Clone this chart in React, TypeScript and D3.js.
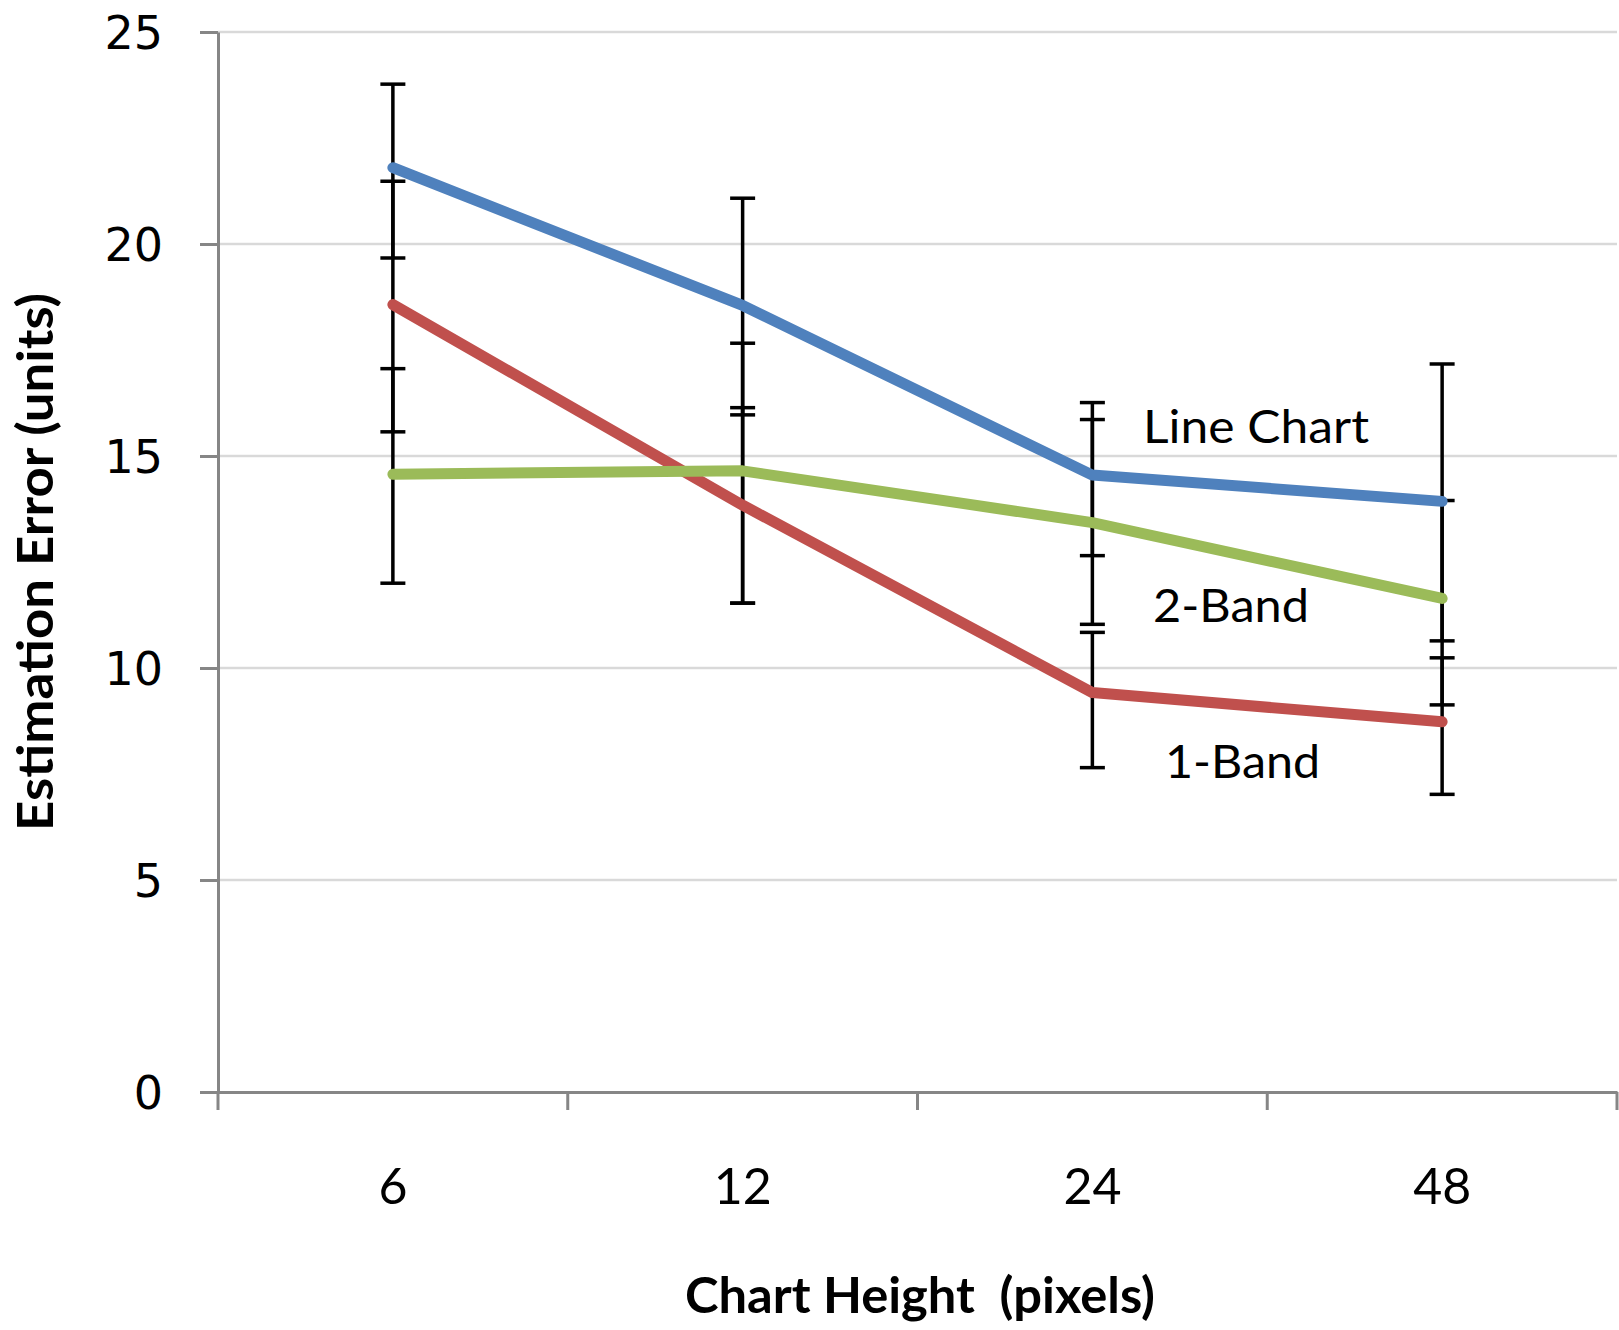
import React, { useEffect, useRef } from "react";
import * as d3 from "d3";

// ---- Data ----
const categories = ["6", "12", "24", "48"];
const yTicks = [0, 5, 10, 15, 20, 25];

const lineChartValues = [21.8, 18.55, 14.55, 13.93];
const oneBandValues = [18.57, 13.84, 9.42, 8.73];
const twoBandValues = [14.57, 14.65, 13.43, 11.64];

const lineChartLow = [19.67, 15.97, 12.65, 10.64];
const lineChartHigh = [23.77, 21.08, 16.26, 17.17];
const oneBandLow = [15.57, 11.53, 7.65, 7.02];
const oneBandHigh = [21.48, 16.14, 10.84, 10.24];
const twoBandLow = [12.0, 11.53, 11.03, 9.13];
const twoBandHigh = [17.06, 17.66, 15.86, 13.95];

const seriesNames = ["Line Chart", "1-Band", "2-Band"];
const seriesColors = ["#4F81BD", "#C0504D", "#9BBB59"];

const xTitle = "Chart Height  (pixels)";
const yTitle = "Estimation Error (units)";

const W = 1619;
const H = 1330;
const left = 218;
const right = 1617;
const top = 32;
const bottom = 1092;

export default function App() {
  const ref = useRef<SVGSVGElement | null>(null);

  useEffect(() => {
    const svg = d3.select(ref.current);
    svg.selectAll("*").remove();

    const x = d3.scaleBand<string>().domain(categories).range([left, right]).padding(0);
    const y = d3.scaleLinear().domain([0, 25]).range([bottom, top]);
    const cx = (c: string) => (x(c) as number) + x.bandwidth() / 2;

    // gridlines
    svg
      .append("g")
      .selectAll("line")
      .data(yTicks.filter((t) => t > 0))
      .join("line")
      .attr("x1", left)
      .attr("x2", right)
      .attr("y1", (d) => y(d))
      .attr("y2", (d) => y(d))
      .attr("stroke", "#d9d9d9")
      .attr("stroke-width", 2.5);

    // y axis
    const yAxis = d3
      .axisLeft(y)
      .tickValues(yTicks)
      .tickSize(18)
      .tickSizeOuter(0)
      .tickPadding(37)
      .tickFormat((d) => String(d));
    const gy = svg.append("g").attr("transform", `translate(${left},0)`).call(yAxis);
    gy.select(".domain").attr("stroke", "#868686").attr("stroke-width", 3);
    gy.selectAll(".tick line").attr("stroke", "#868686").attr("stroke-width", 3);
    gy.selectAll(".tick text")
      .attr("font-family", "'DejaVu Sans', Verdana, sans-serif")
      .attr("font-size", 46)
      .attr("fill", "#000")
      .attr("dy", "0.36em");

    // x axis labels
    const xAxis = d3.axisBottom(x).tickSize(0).tickSizeOuter(0).tickPadding(0);
    const gx = svg.append("g").attr("transform", `translate(0,${bottom})`).call(xAxis);
    gx.select(".domain").attr("stroke", "#868686").attr("stroke-width", 3);
    gx.selectAll(".tick text")
      .attr("font-family", "Lato, 'Open Sans', sans-serif")
      .attr("font-size", 50)
      .attr("fill", "#000")
      .attr("y", 112)
      .attr("dy", 0);

    // x axis boundary ticks
    const bounds = categories.map((c) => x(c) as number).concat([x.range()[1]]);
    svg
      .append("g")
      .selectAll("line")
      .data(bounds)
      .join("line")
      .attr("x1", (d) => d)
      .attr("x2", (d) => d)
      .attr("y1", bottom)
      .attr("y2", bottom + 18)
      .attr("stroke", "#868686")
      .attr("stroke-width", 3);

    // error bars
    const lows = [lineChartLow, oneBandLow, twoBandLow];
    const highs = [lineChartHigh, oneBandHigh, twoBandHigh];
    const eg = svg.append("g").attr("stroke", "#000").attr("stroke-width", 3.5);
    lows.forEach((lo, si) => {
      const hi = highs[si];
      categories.forEach((c, i) => {
        const px = cx(c);
        eg.append("line").attr("x1", px).attr("x2", px).attr("y1", y(lo[i])).attr("y2", y(hi[i]));
        [lo[i], hi[i]].forEach((v) => {
          eg.append("line")
            .attr("x1", px - 12.5)
            .attr("x2", px + 12.5)
            .attr("y1", y(v))
            .attr("y2", y(v));
        });
      });
    });

    // lines
    const series = [lineChartValues, oneBandValues, twoBandValues];
    const line = d3
      .line<number>()
      .x((_, i) => cx(categories[i]))
      .y((d) => y(d));
    series.forEach((vals, si) => {
      svg
        .append("path")
        .attr("d", line(vals) as string)
        .attr("fill", "none")
        .attr("stroke", seriesColors[si])
        .attr("stroke-width", 11)
        .attr("stroke-linecap", "round")
        .attr("stroke-linejoin", "round");
    });

    // series labels
    const labels = [
      { name: seriesNames[0], x: 1143, y: 443, len: 226 },
      { name: seriesNames[2], x: 1153, y: 622, len: 156 },
      { name: seriesNames[1], x: 1165, y: 778, len: 155 },
    ];
    svg
      .append("g")
      .selectAll("text")
      .data(labels)
      .join("text")
      .attr("x", (d) => d.x)
      .attr("y", (d) => d.y)
      .attr("font-family", "Lato, 'Open Sans', sans-serif")
      .attr("font-size", 46)
      .attr("fill", "#000")
      .attr("textLength", (d) => d.len)
      .attr("lengthAdjust", "spacingAndGlyphs")
      .text((d) => d.name);

    // axis titles
    svg
      .append("text")
      .attr("x", 685)
      .attr("y", 1313)
      .attr("font-family", "Lato, 'Open Sans', sans-serif")
      .attr("font-weight", 700)
      .attr("font-size", 49)
      .attr("fill", "#000")
      .attr("textLength", 470)
      .attr("lengthAdjust", "spacingAndGlyphs")
      .style("white-space", "pre")
      .text(xTitle);

    svg
      .append("text")
      .attr("transform", `translate(53,831) rotate(-90)`)
      .attr("x", 0)
      .attr("y", 0)
      .attr("font-family", "Lato, 'Open Sans', sans-serif")
      .attr("font-weight", 700)
      .attr("font-size", 49)
      .attr("fill", "#000")
      .attr("textLength", 538)
      .attr("lengthAdjust", "spacingAndGlyphs")
      .text(yTitle);
  }, []);

  return (
    <svg
      ref={ref}
      width={W}
      height={H}
      style={{ position: "absolute", left: 0, top: 0, background: "#fff" }}
    />
  );
}
